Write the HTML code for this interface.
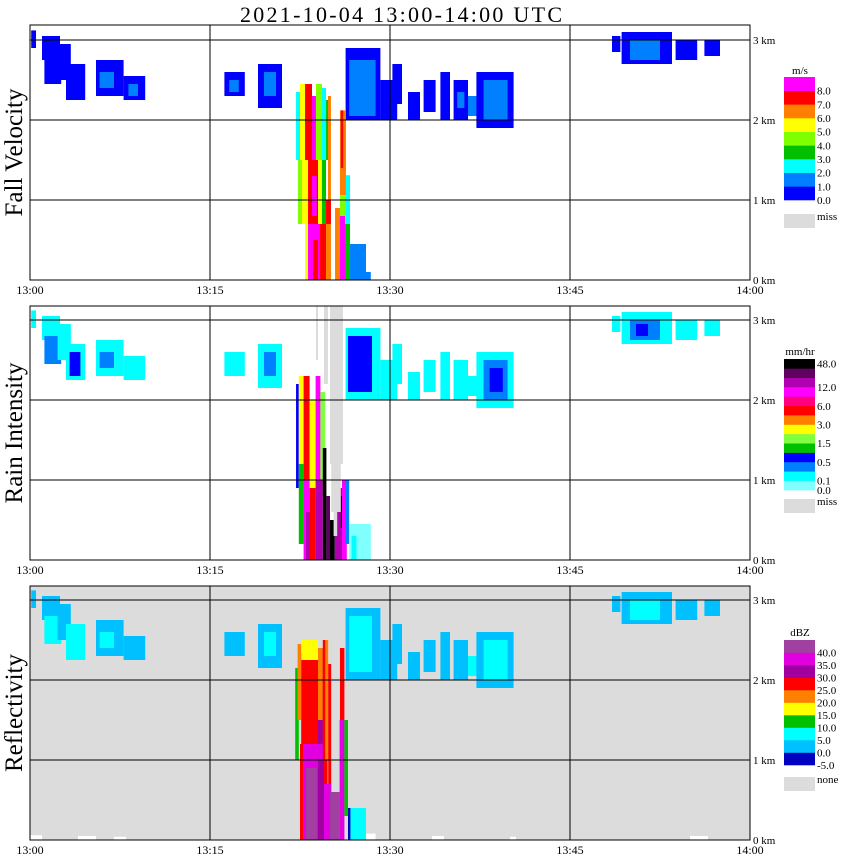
<!DOCTYPE html>
<html><head><meta charset="utf-8"><style>
body{margin:0;background:#fff;}
svg{display:block;font-family:"Liberation Serif",serif;}
</style></head><body>
<svg id="c" width="850" height="868" xmlns="http://www.w3.org/2000/svg">
<text x="401" y="22" font-size="22" text-anchor="middle" textLength="322">2021-10-04   13:00-14:00 UTC</text>
</svg>
<script>
// ---- data (t = minutes after 13:00, h = km) ----
const timeTicks = ["13:00","13:15","13:30","13:45","14:00"];
const tickMinutes = [0,15,30,45,60];
const kmTicks = [0,1,2,3];
const panelTitles = ["Fall Velocity","Rain Intensity","Reflectivity"];
const fvColors = ["#0000ff","#0080ff","#00ffff","#00c000","#80ff00","#ffff00","#ff8000","#ff0000","#ff00ff"];
const fvLabels = ["0.0","1.0","2.0","3.0","4.0","5.0","6.0","7.0","8.0"];
const rainColors = ["#80ffff","#00ffff","#0080ff","#0000ff","#00c000","#80ff40","#ffff00","#ff8000","#ff0000","#ff0080","#ff00ff","#b000b0","#600060","#000000"];
const rainLabels = ["0.0","0.1","0.5","1.5","3.0","6.0","12.0","48.0"];
const rainLabelIdx = [14,13,11,9,7,5,3,0.5];
const dbzColors = ["#0000c0","#00c0ff","#00ffff","#00c000","#ffff00","#ff8000","#ff0000","#a000a0","#e000e0","#a040a0"];
const dbzLabels = ["-5.0","0.0","5.0","10.0","15.0","20.0","25.0","30.0","35.0","40.0"];
const fvCells = [
[0.1,0.5,2.9,3.12,0],[1,2.5,2.75,3.05,0],[1.2,2.6,2.45,2.8,0],[2.3,3.4,2.5,2.95,0],[3,4.6,2.25,2.7,0],[5.5,7.8,2.3,2.75,0],[5.8,7.0,2.4,2.6,1],[7.8,9.6,2.25,2.55,0],[8.2,9.0,2.3,2.45,1],
[16.2,17.9,2.3,2.6,0],[16.6,17.4,2.35,2.5,1],[19,21,2.15,2.7,0],[19.5,20.5,2.3,2.6,1],
[26.3,29.2,2.0,2.9,0],[26.6,28.8,2.05,2.75,1],[29.2,30.6,2.0,2.5,0],[30.2,31.0,2.2,2.7,0],[31.5,32.5,2.0,2.35,0],[32.8,33.8,2.1,2.5,0],[34.2,35,2.0,2.6,0],[35.3,36.5,2.0,2.5,0],[35.6,36.2,2.15,2.35,1],[36.5,37.5,2.05,2.3,1],
[37.2,40.3,1.9,2.6,0],[37.8,39.8,2.0,2.5,1],
[49.3,53.5,2.7,3.1,0],[50,52.5,2.75,3.0,1],[53.8,55.6,2.75,3.0,0],[56.2,57.5,2.8,3.0,0],[48.5,49.2,2.85,3.05,0],
[22.17,22.5,1.5,2.35,2],[22.5,22.92,1.5,2.45,5],[22.92,23.5,1.5,2.45,7],[23.5,23.83,1.5,2.3,8],[23.83,24.33,1.5,2.45,4],[24.33,24.67,1.5,2.4,2],[24.67,25.0,1.5,2.25,3],[24.83,25.08,1.0,2.3,6],
[22.33,22.67,0.7,1.5,4],[22.67,23.17,0.7,1.5,5],[23.17,24.0,0.7,1.5,7],[23.5,23.9,0.8,1.3,8],[24.0,24.33,0.7,1.5,5],[24.33,24.67,0.7,1.5,3],[24.67,25.08,0.7,1.0,7],
[22.92,23.17,0,0.7,5],[23.17,24.17,0,0.7,8],[23.6,24.0,0,0.5,7],[24.17,24.67,0,0.7,7],[24.67,25.08,0,0.7,6],
[25.83,26.33,1.06,2.12,6],[25.9,26.1,1.4,2.12,7],[25.83,26.5,0.7,1.06,4],[26.33,26.67,0.7,1.31,2],[25.42,25.83,0,0.9,6],[25.83,26.25,0,0.8,8],[26.25,26.67,0,0.7,3],[26.67,28.0,0,0.45,1],[28,28.4,0,0.1,1]
];
const rainCells = [
[0.1,0.5,2.9,3.12,1],[1,2.5,2.75,3.05,1],[1.2,2.6,2.45,2.8,2],[2.3,3.4,2.5,2.95,1],[3,4.6,2.25,2.7,1],[3.3,4.2,2.3,2.6,3],[5.5,7.8,2.3,2.75,1],[5.8,7.0,2.4,2.6,2],[7.8,9.6,2.25,2.55,1],
[16.2,17.9,2.3,2.6,1],[19,21,2.15,2.7,1],[19.5,20.5,2.3,2.6,2],
[26.3,29.2,2.0,2.9,1],[26.5,28.5,2.1,2.8,3],[29.2,30.6,2.0,2.5,1],[30.2,31.0,2.2,2.7,1],[31.5,32.5,2.0,2.35,1],[32.8,33.8,2.1,2.5,1],[34.2,35,2.0,2.6,1],[35.3,36.5,2.0,2.5,1],[36.5,37.5,2.05,2.3,1],
[37.2,40.3,1.9,2.6,1],[37.8,39.8,2.0,2.5,2],[38.3,39.4,2.1,2.4,3],
[49.3,53.5,2.7,3.1,1],[50,52.5,2.75,3.0,2],[50.5,51.5,2.8,2.95,3],[53.8,55.6,2.75,3.0,1],[56.2,57.5,2.8,3.0,1],[48.5,49.2,2.85,3.05,1],
[22.17,22.4,0.9,2.2,3],[22.4,22.8,1.2,2.3,6],[22.8,23.3,1.0,2.3,8],[23.3,23.8,0.9,2.0,6],[23.8,24.2,1.0,2.3,10],[24.2,24.6,0.8,2.1,5],
[22.4,22.8,0.2,1.2,4],[22.8,23.3,0,1.0,10],[23.0,23.4,0,0.6,11],[23.3,23.8,0,0.9,8],[23.8,24.4,0,1.0,11],[24.4,24.7,0,1.4,13],[24.7,25.0,0,0.8,12],[25.0,25.4,0,0.5,13],[25.4,26.0,0,0.9,11],[25.9,26.3,0.4,0.8,13],[26.0,26.4,0,1.0,10],[26.3,26.6,0.2,1.0,2],[26.6,28.4,0,0.45,0],[26.8,27.2,0,0.3,1]
];
const rainMiss = [[23.83,24.0,2.5,3.2],[24.5,24.83,2.2,3.2],[25.0,26.08,1.2,3.2],[25.1,25.9,0.6,1.2],[25.3,25.6,0.3,0.6]];
const dbzCells = [
[0.1,0.5,2.9,3.12,1],[1,2.5,2.75,3.05,1],[1.2,2.6,2.45,2.8,2],[2.3,3.4,2.5,2.95,1],[3,4.6,2.25,2.7,2],[5.5,7.8,2.3,2.75,1],[5.8,7.0,2.4,2.6,2],[7.8,9.6,2.25,2.55,1],
[16.2,17.9,2.3,2.6,1],[19,21,2.15,2.7,1],[19.5,20.5,2.3,2.6,2],
[26.3,29.2,2.0,2.9,1],[26.6,28.5,2.1,2.8,2],[29.2,30.6,2.0,2.5,1],[30.2,31.0,2.2,2.7,1],[31.5,32.5,2.0,2.35,1],[32.8,33.8,2.1,2.5,1],[34.2,35,2.0,2.6,1],[35.3,36.5,2.0,2.5,1],[36.5,37.5,2.05,2.3,2],
[37.2,40.3,1.9,2.6,1],[37.8,39.8,2.0,2.5,2],
[49.3,53.5,2.7,3.1,1],[50,52.5,2.75,3.0,2],[53.8,55.6,2.75,3.0,1],[56.2,57.5,2.8,3.0,1],[48.5,49.2,2.85,3.05,1],
[22.1,22.4,1.0,2.15,3],[22.3,22.6,1.5,2.45,5],[22.6,24.0,1.2,2.35,6],[22.6,24.0,2.25,2.5,4],[24.0,24.6,1.0,2.4,7],[24.0,24.4,1.5,2.4,5],[24.4,24.8,0.3,2.5,6],[24.6,24.85,1.0,2.5,5],[24.85,25.1,0.3,2.2,6],
[22.5,22.8,0,1.2,6],[22.8,24.4,0,1.2,8],[23.0,23.9,0,0.9,9],[24.0,24.5,0,1.0,7],[24.5,25.1,0,0.7,8],[25.0,25.8,0,0.6,9],[25.8,26.2,0,1.5,8],[25.83,26.2,1.5,2.4,6],[26.2,26.5,0.3,1.5,3],[26.5,28.0,0,0.4,2],[26.5,26.7,0,0.4,0]
];
const dbzNone = [[0,1,0,0.06],[4,5.5,0,0.05],[7,8,0,0.04],[27.5,28.8,0,0.08],[33.5,34.5,0,0.05],[40,40.5,0,0.04],[55,56.5,0,0.05]];

// ---- layout ----
const NS="http://www.w3.org/2000/svg";
const svg=document.getElementById('c');
const panels=[{top:25,bottom:280},{top:306,bottom:560},{top:586,bottom:840}];
const X0=30, PXMIN=12, PXKM=80;
function xs(t){return X0+t*PXMIN;}
function ys(p,h){return Math.max(panels[p].top,panels[p].bottom-h*PXKM);}
function mk(tag,attrs,parent){const e=document.createElementNS(NS,tag);for(const k in attrs)e.setAttribute(k,attrs[k]);(parent||svg).appendChild(e);return e;}
function cellRect(g,p,c,color){
  const y1=ys(p,c[3]), y0=ys(p,c[2]);
  const r=mk('rect',{x:xs(c[0]),y:y1,width:(c[1]-c[0])*PXMIN,height:Math.max(0,y0-y1),fill:color},g);
  return r;
}
const sets=[[fvCells,fvColors],[rainCells,rainColors],[dbzCells,dbzColors]];
const pnames=['fall-velocity','rain-intensity','reflectivity'];
panels.forEach((P,p)=>{
  const g=mk('g',{});
  
  
  if(p===2){const bg=mk('rect',{x:30,y:P.top,width:720,height:P.bottom-P.top,fill:'#dcdcdc'},g);
    
    
    dbzNone.forEach(c=>{const r=cellRect(g,p,c,'#ffffff');
      
      });
  }
  const [cells,cols]=sets[p];
  cells.forEach(c=>{const r=cellRect(g,p,c,cols[c[4]]);
    
    });
  if(p===1) rainMiss.forEach(c=>{const r=cellRect(g,p,c,'#dcdcdc');
    
    });
  // frame & grid
  const fr=mk('rect',{x:30,y:P.top,width:720,height:P.bottom-P.top,fill:'none',stroke:'#000','stroke-width':1},g);
  
  
  tickMinutes.forEach((m,i)=>{
    const gl=mk('line',{x1:xs(m),x2:xs(m),y1:P.top,y2:P.bottom,stroke:'#000','stroke-width':1},g);
    
    
    const tx=mk('text',{x:xs(m),y:P.bottom+14,'font-size':12,'text-anchor':'middle'},g);
    tx.textContent=timeTicks[i];
    
    
  });
  kmTicks.forEach(k=>{
    const yy=P.bottom-k*PXKM;
    if(k>0){const hl=mk('line',{x1:30,x2:750,y1:yy,y2:yy,stroke:'#000','stroke-width':1},g);
      
      }
    const tx=mk('text',{x:753,y:yy+4,'font-size':11},g);
    tx.textContent=k+' km';
    
    
  });
  const cy=(P.top+P.bottom)/2;
  const yt=mk('text',{x:22,y:cy,'font-size':25,'text-anchor':'middle',transform:`rotate(-90 22 ${cy})`},g);
  yt.textContent=panelTitles[p];
  
  
});
// ---- legends ----
function legend(unit,colors,top,bottom,labelIdx,labels,missY,missText,titleY){
  const g=mk('g',{});
  
  
  const n=colors.length, bh=(bottom-top)/n;
  const t=mk('text',{x:800,y:titleY,'font-size':11,'text-anchor':'middle'},g);t.textContent=unit;
  
  
  colors.forEach((c,i)=>{
    const r=mk('rect',{x:784,y:bottom-(i+1)*bh,width:31,height:bh+0.3,fill:c},g);
    
    
  });
  labels.forEach((l,i)=>{
    const yy=top+labelIdx[i]*bh;
    const tx=mk('text',{x:817,y:yy+4,'font-size':11},g);tx.textContent=l;
    
    
  });
  const m=mk('rect',{x:784,y:missY,width:31,height:14,fill:'#dcdcdc'},g);
  
  
  const mt=mk('text',{x:817,y:missY+6,'font-size':11},g);mt.textContent=missText;
  
  
}
legend('m/s',fvColors,77,200,fvLabels.map((_,i)=>9-i),fvLabels,214,'miss',74);
legend('mm/hr',rainColors,359,490,rainLabelIdx,rainLabels,499,'miss',355);
legend('dBZ',dbzColors,640,765,dbzLabels.map((_,i)=>10-i),dbzLabels,777,'none',636);
</script>
</body></html>
